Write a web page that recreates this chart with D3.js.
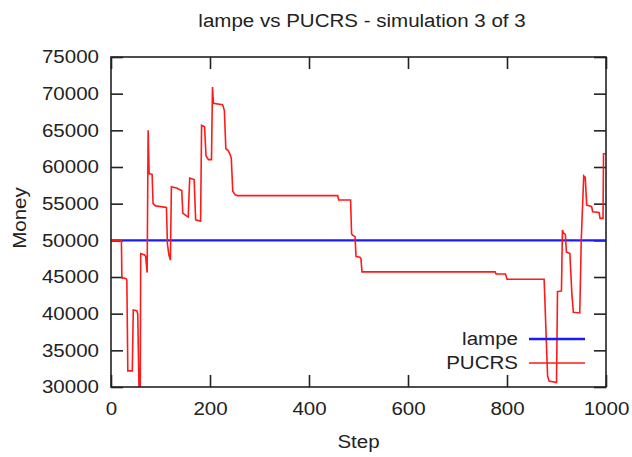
<!DOCTYPE html>
<html>
<head>
<meta charset="utf-8">
<script src="https://cdn.jsdelivr.net/npm/d3@7"></script>
<style>
  body { margin: 0; background: #fff; }
  text { font-family: "Liberation Sans", Arial, sans-serif; fill: #222; }
</style>
</head>
<body>
<svg id="chart"></svg>
<script>
// data
const stepTicks = [0, 200, 400, 600, 800, 1000]
const moneyTicks = [30000, 35000, 40000, 45000, 50000, 55000, 60000, 65000, 70000, 75000]

const lampeSteps = [0, 1000]
const lampeMoney = [50000, 50000]

const pucrsSteps = [0, 21, 22, 30, 32, 34, 43, 45, 52, 54, 57, 59, 60, 68, 70, 73, 75, 77, 83, 85, 90,
  112, 114, 117, 120, 122, 134, 136, 143, 145, 153, 156, 159, 168, 171, 181, 183, 189, 192, 197,
  203, 205, 207, 225, 226, 229, 232, 237, 240, 243, 246, 251, 255, 458, 460, 484, 486, 488, 493,
  495, 503, 505, 507, 776, 778, 797, 800, 875, 882, 885, 900, 902, 910, 912, 914, 918, 920, 927,
  931, 934, 947, 950, 955, 958, 961, 971, 973, 986, 988, 994, 995, 1000]
const pucrsMoney = [50000, 50000, 44900, 44800, 44600, 32200, 32200, 40500, 40400, 40000, 28000, 28000, 48200, 48000, 47800, 45600, 65000, 59100, 59000, 55000, 54700,
  54500, 49500, 48000, 47300, 57300, 57100, 57000, 56800, 53700, 53300, 53200, 58500, 58300, 52800, 52600, 65700, 65500, 61500, 61000,
  61000, 70900, 68700, 68500, 68400, 67700, 62500, 62200, 61800, 61200, 56700, 56200, 56100, 56100, 55500, 55500, 50900, 50700, 50500,
  47800, 47700, 47500, 45700, 45700, 45400, 45400, 44700, 44700, 31500, 30800, 30600, 43000, 43100, 51400, 51000, 50800, 48400, 48200,
  42800, 40200, 40100, 50000, 58800, 58600, 54800, 54600, 53900, 53800, 53000, 53000, 61800, 61800]

const width = 632
const height = 457
const margin = { top: 57, right: 26, bottom: 70, left: 111 }
const innerW = width - margin.left - margin.right
const innerH = height - margin.top - margin.bottom
const fontSize = 18
const stretch = 1.14   // the original text is a bit wider than the font

const svg = d3.select('#chart')
    .attr('width', width)
    .attr('height', height)

const g = svg.append('g')
    .attr('transform', `translate(${margin.left},${margin.top})`)

const x = d3.scaleLinear().domain([0, 1000]).range([0, innerW])
const y = d3.scaleLinear().domain([30000, 75000]).range([innerH, 0])

// clip the red line to the frame
svg.append('defs').append('clipPath').attr('id', 'clip')
    .append('rect').attr('width', innerW).attr('height', innerH)

// axes, gnuplot style ticks pointing inwards on all four sides
const axisStyle = sel => {
    sel.select('.domain').remove()
    sel.selectAll('line').attr('stroke', '#222').attr('stroke-width', 1.6)
    sel.selectAll('text').style('font-size', fontSize + 'px').attr('fill', '#222')
}

g.append('g')
    .attr('transform', `translate(0,${innerH})`)
    .call(d3.axisBottom(x).tickValues(stepTicks).tickFormat(d3.format('d')).tickSizeInner(-12).tickSizeOuter(0).tickPadding(15))
    .call(axisStyle)
g.append('g')
    .call(d3.axisTop(x).tickValues(stepTicks).tickSizeInner(-12).tickSizeOuter(0).tickFormat(''))
    .call(axisStyle)
g.append('g')
    .call(d3.axisLeft(y).tickValues(moneyTicks).tickFormat(d3.format('d')).tickSizeInner(-12).tickSizeOuter(0).tickPadding(12))
    .call(axisStyle)
g.append('g')
    .attr('transform', `translate(${innerW},0)`)
    .call(d3.axisRight(y).tickValues(moneyTicks).tickSizeInner(-12).tickSizeOuter(0).tickFormat(''))
    .call(axisStyle)

g.selectAll('.tick text').attr('font-family', '"Liberation Sans", Arial, sans-serif')

// lines
const line = d3.line()
    .x(d => x(d[0]))
    .y(d => y(d[1]))

const lampe = lampeSteps.map((s, i) => [s, lampeMoney[i]])
const pucrs = pucrsSteps.map((s, i) => [s, pucrsMoney[i]])

const lines = g.append('g').attr('clip-path', 'url(#clip)')
lines.append('path')
    .datum(lampe)
    .attr('d', line)
    .attr('fill', 'none')
    .attr('stroke', '#1a1aff')
    .attr('stroke-width', 2.4)
lines.append('path')
    .datum(pucrs)
    .attr('d', line)
    .attr('fill', 'none')
    .attr('stroke', '#ff1a1a')
    .attr('stroke-width', 1.6)

// frame
g.append('rect')
    .attr('width', innerW)
    .attr('height', innerH)
    .attr('fill', 'none')
    .attr('stroke', '#222')
    .attr('stroke-width', 1.6)

// legend
const legend = g.append('g')
const legendItems = [['lampe', '#1a1aff', 2.4], ['PUCRS', '#ff1a1a', 1.6]]
legendItems.forEach((item, i) => {
    const ly = 282 + i * 24
    legend.append('text')
        .attr('x', 407)
        .attr('y', ly)
        .attr('dy', '0.35em')
        .attr('text-anchor', 'end')
        .style('font-size', fontSize + 'px')
        .text(item[0])
    legend.append('line')
        .attr('x1', 418).attr('x2', 474)
        .attr('y1', ly).attr('y2', ly)
        .attr('stroke', item[1])
        .attr('stroke-width', item[2])
})

// titles
svg.append('text')
    .attr('x', 362)
    .attr('y', 27)
    .attr('text-anchor', 'middle')
    .style('font-size', fontSize + 'px')
    .text('lampe vs PUCRS - simulation 3 of 3')

svg.append('text')
    .attr('x', margin.left + innerW / 2)
    .attr('y', 448)
    .attr('text-anchor', 'middle')
    .style('font-size', fontSize + 'px')
    .text('Step')

svg.append('text')
    .attr('transform', `translate(26,${margin.top + innerH / 2 - 4}) rotate(-90)`)
    .attr('text-anchor', 'middle')
    .style('font-size', fontSize + 'px')
    .text('Money')

// widen every label a little to match the original
svg.selectAll('text').each(function () {
    const len = this.getComputedTextLength()
    d3.select(this)
        .attr('textLength', len * stretch)
        .attr('lengthAdjust', 'spacingAndGlyphs')
})
</script>
</body>
</html>
